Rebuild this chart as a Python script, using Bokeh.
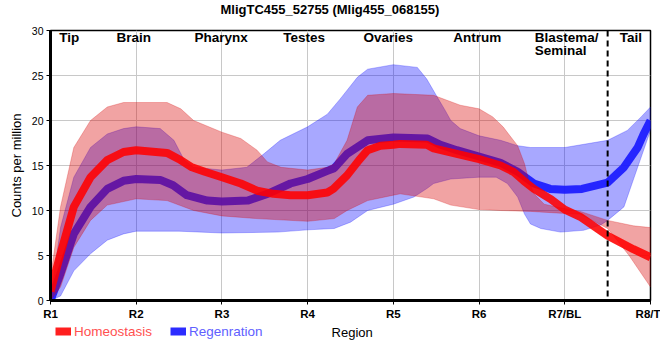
from bokeh.plotting import figure
from bokeh.layouts import column
from bokeh.models import Range1d, FixedTicker, Span, Legend, LegendItem, Label
from bokeh.core.properties import value
from bokeh.embed import file_html
from bokeh.resources import INLINE
import numpy as np

# ---------------- data ----------------
title_text = "MligTC455_52755 (Mlig455_068155)"
x_title = "Region"
y_title = "Counts per million"
tick_pos = [1, 2, 3, 4, 5, 6, 7, 8]
tick_labels = ["R1", "R2", "R3", "R4", "R5", "R6", "R7/BL", "R8/T"]
series_names = ["Homeostasis", "Regenration"]

region_names = ["Tip", "Brain", "Pharynx", "Testes", "Ovaries", "Antrum", "Blastema/", "Seminal", "Tail"]
region_x = [1.22, 1.97, 2.99, 3.96, 4.94, 5.98, 6.65, 6.65, 7.77]
region_y = [29.25, 29.25, 29.25, 29.25, 29.25, 29.25, 29.25, 27.8, 29.25]
region_align = ["center", "center", "center", "center", "center", "center", "left", "left", "center"]

# Homeostasis (red) smoothed mean
homeo_x = [1.0, 1.117, 1.272, 1.467, 1.662, 1.852, 2.0, 2.36, 2.5, 2.65, 2.8, 3.0, 3.22, 3.41,
           3.6, 3.8, 4.0, 4.23, 4.3, 4.46, 4.6, 4.7, 4.85, 5.0, 5.08, 5.39, 5.47, 5.74, 6.0,
           6.25, 6.4, 6.52, 6.64, 6.83, 7.0, 7.18, 7.5, 7.8, 8.0]
homeo_y = [1.0, 5.2, 10.4, 13.7, 15.6, 16.5, 16.7, 16.4, 15.7, 14.8, 14.3, 13.7, 13.0, 12.2,
           11.85, 11.7, 11.7, 12.0, 12.4, 13.9, 15.6, 16.7, 17.2, 17.3, 17.4, 17.3, 16.9, 16.3, 15.7,
           15.0, 14.3, 13.3, 12.4, 11.3, 10.1, 9.3, 7.2, 5.7, 4.8]

# Homeostasis confidence band
homeo_up_x = [1.0, 1.117, 1.272, 1.467, 1.662, 1.852, 2.0, 2.36, 2.52, 2.67, 3.0, 3.22, 3.41,
              3.53, 3.69, 4.0, 4.23, 4.31, 4.46, 4.58, 4.7, 5.0, 5.47, 5.78, 6.0, 6.16, 6.28,
              6.36, 6.45, 6.53, 6.58, 6.64, 6.76, 6.95, 7.18, 7.5, 7.8, 8.0]
homeo_up_y = [2.5, 10.4, 17.0, 20.0, 21.5, 22.0, 22.0, 22.0, 21.3, 20.0, 18.7, 18.0, 16.7,
              15.4, 14.8, 14.5, 14.8, 15.2, 17.8, 21.5, 22.8, 23.0, 22.8, 21.7, 21.3, 20.4, 19.3,
              18.3, 17.2, 15.2, 13.3, 11.85, 10.7, 10.3, 9.9, 8.9, 8.3, 8.1]
homeo_lo_x = [1.0, 1.117, 1.272, 1.467, 1.662, 2.0, 2.36, 2.67, 3.0, 3.41, 4.0, 4.31, 4.46,
              4.7, 5.0, 5.08, 5.47, 5.67, 6.0, 6.25, 6.6, 6.95, 7.18, 7.5, 7.75, 8.0]
homeo_lo_y = [0.0, 1.5, 5.9, 8.9, 10.6, 11.3, 11.1, 10.0, 9.4, 9.1, 8.8, 9.1, 10.0,
              11.1, 11.7, 11.85, 11.3, 10.6, 10.1, 10.0, 9.9, 9.7, 9.6, 8.0, 5.0, 1.5]

# Regeneration (blue) smoothed mean
regen_x = [1.0, 1.117, 1.272, 1.467, 1.662, 1.852, 2.0, 2.28, 2.43, 2.59, 2.83, 3.0, 3.3,
           3.53, 3.8, 4.0, 4.23, 4.31, 4.46, 4.7, 5.0, 5.4, 5.55, 5.74, 6.0, 6.25, 6.45,
           6.64, 6.83, 7.0, 7.2, 7.5, 7.69, 7.85, 7.92, 8.0]
regen_y = [0.0, 3.0, 7.4, 10.4, 12.4, 13.3, 13.5, 13.4, 12.8, 11.7, 11.1, 11.0, 11.1,
           11.85, 13.0, 13.5, 14.4, 14.7, 16.3, 17.8, 18.1, 18.0, 17.3, 16.7, 16.0, 15.3, 14.3,
           13.0, 12.4, 12.3, 12.4, 13.1, 14.8, 17.0, 18.5, 20.0]

# Regeneration confidence band
regen_up_x = [1.0, 1.117, 1.272, 1.467, 1.662, 1.852, 2.0, 2.28, 2.44, 2.56, 2.67, 3.0, 3.29,
              3.49, 3.68, 4.0, 4.23, 4.38, 4.58, 4.7, 5.0, 5.28, 5.39, 5.5, 5.6, 5.67, 5.78,
              6.0, 6.25, 6.45, 6.6, 7.0, 7.5, 7.73, 7.89, 8.0]
regen_up_y = [0.0, 8.1, 13.7, 17.0, 18.5, 19.1, 19.3, 19.1, 17.8, 15.6, 14.8, 14.5, 14.8,
              16.3, 17.8, 19.3, 20.7, 22.4, 24.8, 25.7, 26.2, 25.9, 24.6, 22.8, 21.2, 20.0, 19.1,
              18.3, 17.8, 17.2, 17.0, 17.0, 17.8, 18.9, 20.4, 21.5]
regen_lo_x = [1.0, 1.117, 1.272, 1.467, 1.662, 1.852, 2.0, 2.5, 3.0, 3.65, 4.0, 4.31, 4.5,
              4.7, 5.0, 5.24, 5.4, 5.47, 5.67, 6.0, 6.2, 6.33, 6.45, 6.53, 6.6, 6.72, 6.95,
              7.22, 7.42, 7.5, 7.69, 7.85, 8.0]
regen_lo_y = [0.0, 0.5, 3.3, 5.2, 6.7, 7.4, 7.7, 7.7, 7.5, 7.6, 7.85, 8.0, 8.7,
              10.0, 10.7, 11.5, 12.5, 13.0, 13.5, 13.7, 13.7, 13.0, 11.5, 9.6, 8.5, 8.0, 7.6,
              7.8, 8.4, 8.9, 10.4, 14.8, 18.9]

# ---------------- styles ----------------
SANS = "Liberation Sans"
RED_BAND = "#d80000"
BLUE_BAND = "#0000ff"
RED_LINE = "#ff0000"
BLUE_LINE = "#1a1aff"
RED_TEXT = "#ff5050"
BLUE_TEXT = "#6060ff"

def strip(height):
    """A bare strip sharing the main x scale (for title / legend rows)."""
    f = figure(width=660, height=height, output_backend="svg", toolbar_location=None,
               x_range=p.x_range, y_range=Range1d(0, 1), x_axis_type=None, y_axis_type=None,
               min_border_left=50, min_border_right=10, min_border_top=0, min_border_bottom=0)
    f.outline_line_color = None
    f.background_fill_color = "white"
    f.border_fill_color = "white"
    f.xgrid.visible = False
    f.ygrid.visible = False
    return f

# ---------------- main figure ----------------
p = figure(width=660, height=302, output_backend="svg", toolbar_location=None, title=None,
           x_range=Range1d(1, 8), y_range=Range1d(0, 30),
           min_border_left=50, min_border_right=10, min_border_top=10, min_border_bottom=22)
p.background_fill_color = "white"
p.border_fill_color = "white"
p.outline_line_color = "black"
p.outline_line_width = 1.5

p.xgrid.ticker = FixedTicker(ticks=tick_pos)
p.ygrid.ticker = FixedTicker(ticks=[0, 5, 10, 15, 20, 25, 30])
for g in (p.xgrid, p.ygrid):
    g.grid_line_color = "#c8c8c8"
    g.grid_line_width = 1

p.xaxis.ticker = FixedTicker(ticks=tick_pos)
p.xaxis.major_label_overrides = {t: l for t, l in zip(tick_pos, tick_labels)}
p.yaxis.ticker = FixedTicker(ticks=[0, 5, 10, 15, 20, 25, 30])
for ax in (p.xaxis[0], p.yaxis[0]):
    ax.axis_line_width = 3
    ax.axis_line_color = "black"
    ax.major_tick_line_color = "black"
    ax.major_tick_out = 4
    ax.major_tick_in = 0
    ax.minor_tick_line_color = None
    ax.major_label_standoff = 3
    ax.axis_label_text_font = SANS
    ax.axis_label_text_font_style = "normal"
    ax.axis_label_text_font_size = "13px"
    ax.axis_label_text_color = "black"
    ax.major_label_text_color = "black"
    ax.major_label_text_font = SANS

p.xaxis.major_label_text_font_size = "11.5px"
p.xaxis.major_label_text_font_style = "bold"
p.yaxis.axis_label = y_title
p.yaxis.axis_label_standoff = 5
p.yaxis.major_label_text_font_size = "10.5px"

p.patch(np.concatenate([regen_up_x, regen_lo_x[::-1]]),
        np.concatenate([regen_up_y, regen_lo_y[::-1]]),
        fill_color=BLUE_BAND, fill_alpha=0.34, line_color=BLUE_BAND, line_alpha=0.25, line_width=1)
p.line(regen_x, regen_y, line_color=BLUE_LINE, line_alpha=0.92, line_width=8, line_join="round")
p.patch(np.concatenate([homeo_up_x, homeo_lo_x[::-1]]),
        np.concatenate([homeo_up_y, homeo_lo_y[::-1]]),
        fill_color=RED_BAND, fill_alpha=0.36, line_color=RED_BAND, line_alpha=0.25, line_width=1)
p.line(homeo_x, homeo_y, line_color=RED_LINE, line_alpha=0.88, line_width=8, line_join="round")

p.add_layout(Span(location=7.5, dimension="height", line_color="black", line_width=2,
                  line_dash="6 4"))

p.text(x=region_x, y=region_y, text=region_names, text_align=region_align,
       text_baseline="middle", text_font=value(SANS), text_font_style="bold",
       text_font_size="13.5px", text_color="black")

# ---------------- title strip ----------------
t = strip(20)
t.add_layout(Label(x=4.26, y=0.56, text=title_text, text_align="center", text_baseline="middle",
                   text_font=SANS, text_font_style="bold", text_font_size="13px",
                   text_color="black"))

# ---------------- legend strip ----------------
q = strip(38)
leg_red = q.line([np.nan], [np.nan], line_color=RED_LINE, line_alpha=0.88, line_width=8)
leg_blue = q.line([np.nan], [np.nan], line_color=BLUE_LINE, line_alpha=0.92, line_width=8)

def mk_legend(label, rend, loc, color):
    return Legend(items=[LegendItem(label=label, renderers=[rend])], location=loc,
                  orientation="horizontal", label_text_color=color, label_text_font=SANS,
                  label_text_font_size="13.5px", glyph_width=16, glyph_height=16,
                  label_height=16, label_standoff=3, padding=0, margin=0, spacing=0,
                  border_line_color=None, background_fill_alpha=0)

q.add_layout(mk_legend(series_names[0], leg_red, (5, 21), RED_TEXT))
q.add_layout(mk_legend(series_names[1], leg_blue, (120, 21), BLUE_TEXT))
q.add_layout(Label(x=4.52, y=0.745, text=x_title, text_align="center", text_baseline="middle",
                   text_font=SANS, text_font_size="13px", text_color="black"))

layout = column(t, p, q, spacing=0)
open("out.html", "w").write(file_html(layout, INLINE))
